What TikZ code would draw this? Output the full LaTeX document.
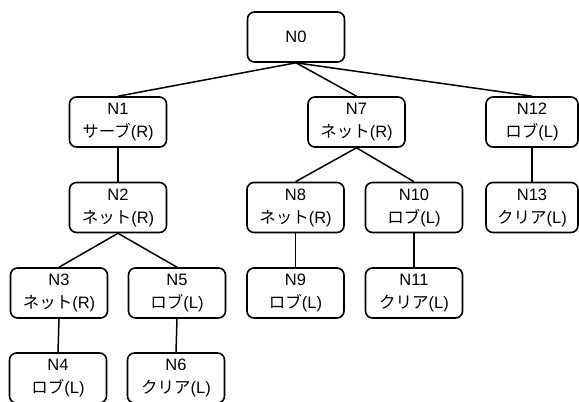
\documentclass[tikz,border=0pt]{standalone}
\usepackage{fontspec}
\setmainfont{Liberation Sans}
\newfontfamily\jpfont{Noto Sans CJK JP}
\newcommand{\J}[1]{{\jpfont #1}}
\begin{document}
\begin{tikzpicture}[x=1pt,y=-1pt,
  box/.style={draw, line width=1.6pt, rounded corners=7pt, minimum width=97pt, minimum height=50pt, inner sep=0pt, align=center, font=\fontsize{16.5}{23}\selectfont, fill=white},
  edge/.style={line width=1.5pt}]
\useasboundingbox (0,0) rectangle (579,402);
\node[box] (n0) at (296,37) {N0};
\node[box] (n1) at (118,122) {N1\\\J{サーブ}(R)};
\node[box] (n7) at (356.5,122) {N7\\\J{ネット}(R)};
\node[box, minimum width=92pt] (n12) at (532,122) {N12\\\J{ロブ}(L)};
\node[box] (n2) at (118,207.5) {N2\\\J{ネット}(R)};
\node[box] (n8) at (295.5,207.5) {N8\\\J{ネット}(R)};
\node[box] (n10) at (414,207.5) {N10\\\J{ロブ}(L)};
\node[box, minimum width=92pt] (n13) at (532,207.5) {N13\\\J{クリア}(L)};
\node[box] (n3) at (59,293) {N3\\\J{ネット}(R)};
\node[box] (n5) at (177,293) {N5\\\J{ロブ}(L)};
\node[box] (n9) at (295.5,293) {N9\\\J{ロブ}(L)};
\node[box] (n11) at (414,293) {N11\\\J{クリア}(L)};
\node[box] (n4) at (58,378) {N4\\\J{ロブ}(L)};
\node[box] (n6) at (176,378) {N6\\\J{クリア}(L)};
\draw[edge] (n0.south) -- (n1.north);
\draw[edge] (n0.south) -- (n7.north);
\draw[edge] (n0.south) -- (n12.north);
\draw[edge] (n1.south) -- (n2.north);
\draw[edge] (n2.south) -- (n3.north);
\draw[edge] (n2.south) -- (n5.north);
\draw[edge] (n3.south) -- (n4.north);
\draw[edge] (n5.south) -- (n6.north);
\draw[edge] (n7.south) -- (n8.north);
\draw[edge] (n7.south) -- (n10.north);
\draw[edge] (n8.south) -- (n9.north);
\draw[edge] (n10.south) -- (n11.north);
\draw[edge] (n12.south) -- (n13.north);
\end{tikzpicture}
\end{document}
